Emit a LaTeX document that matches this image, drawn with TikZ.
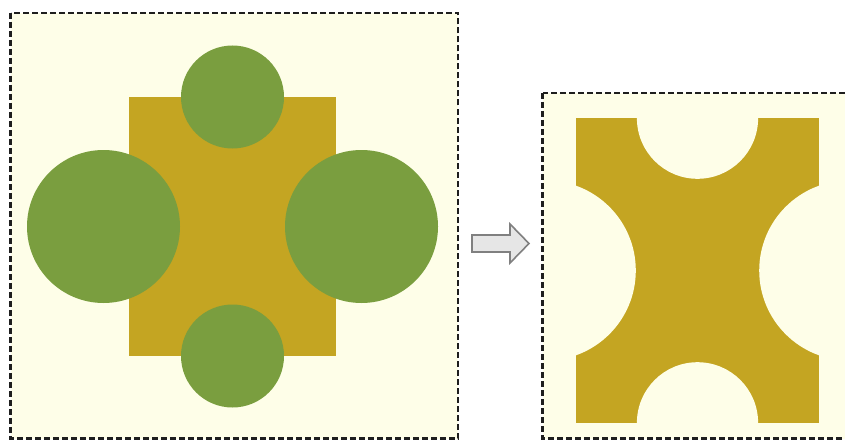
\documentclass[tikz,border=0pt]{standalone}
\definecolor{cream}{HTML}{FEFEE8}
\definecolor{gold}{HTML}{C4A522}
\definecolor{leaf}{HTML}{7A9E3F}
\definecolor{arrowfill}{HTML}{E6E6E6}
\definecolor{arrowline}{HTML}{808080}
\definecolor{border}{HTML}{1E1E1E}
\tikzset{
  panel/.style={fill=cream, draw=border, line width=2.6pt, dash pattern=on 6pt off 3pt},
  goldfill/.style={fill=gold},
  leaffill/.style={fill=leaf},
  holefill/.style={fill=cream},
  blockarrow/.style={fill=arrowfill, draw=arrowline, line width=1.6pt, line join=miter}
}
\begin{document}
\begin{tikzpicture}[x=1pt,y=-1pt]
\useasboundingbox (0,0) rectangle (845,441);
\clip (0,0) rectangle (845,441);
% left panel
\draw[panel] (10.5,13) rectangle (458,438.5);
\fill[goldfill] (129,97) rectangle (336,356);
\fill[leaffill] (232.5,97) circle (51.5);
\fill[leaffill] (232.5,356) circle (51.5);
\fill[leaffill] (103.5,226.5) circle (76.5);
\fill[leaffill] (361.5,226.5) circle (76.5);
% arrow
\draw[blockarrow] (472,235) -- (510,235) -- (510,224) -- (529,243.5) -- (510,263) -- (510,252) -- (472,252) -- cycle;
% right panel
\draw[panel] (542.5,93) rectangle (870,438.5);
\begin{scope}
\clip (575.8,118.2) rectangle (819.2,422.8);
\fill[goldfill] (575.8,118.2) rectangle (819.2,422.8);
\fill[holefill] (697.5,118.2) circle (60.6);
\fill[holefill] (697.5,422.8) circle (60.6);
\fill[holefill] (545.8,270.5) circle (90);
\fill[holefill] (849.2,270.5) circle (90);
\end{scope}
\end{tikzpicture}
\end{document}
